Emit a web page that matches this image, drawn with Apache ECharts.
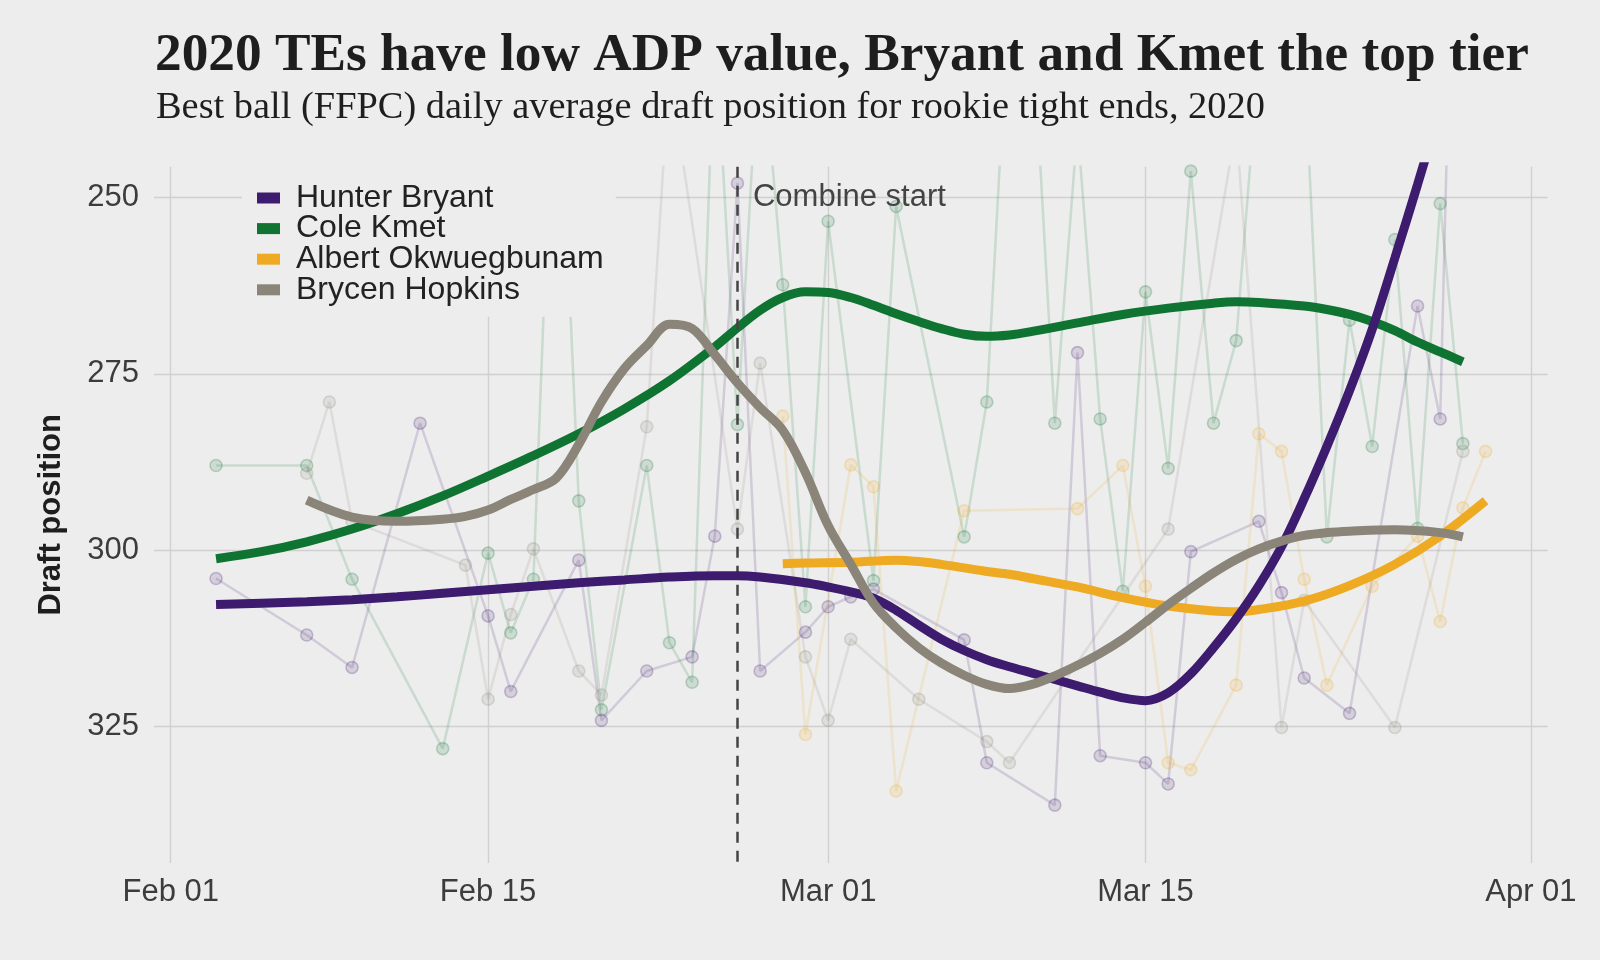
<!DOCTYPE html>
<html>
<head>
<meta charset="utf-8">
<script src="https://cdn.jsdelivr.net/npm/echarts@6/dist/echarts.min.js"></script>
<style>
html,body{margin:0;padding:0;background:#ededed;}
#chart{width:1600px;height:960px;}
</style>
</head>
<body>
<div id="chart"></div>
<script>
// ---------------- DATA ----------------
const names = ['Hunter Bryant', 'Cole Kmet', 'Albert Okwuegbunam', 'Brycen Hopkins'];
const xTickDates = ['2020-02-01', '2020-02-15', '2020-03-01', '2020-03-15', '2020-04-01'];
const yTicks = [250, 275, 300, 325];
const combineDate = '2020-02-26';

// daily ADP (raw points)
const bryantDates = ['2020-02-03','2020-02-07','2020-02-09','2020-02-12','2020-02-15','2020-02-16','2020-02-19','2020-02-20','2020-02-22','2020-02-24','2020-02-25','2020-02-26','2020-02-27','2020-02-29','2020-03-01','2020-03-02','2020-03-03','2020-03-07','2020-03-08','2020-03-11','2020-03-12','2020-03-13','2020-03-15','2020-03-16','2020-03-17','2020-03-20','2020-03-21','2020-03-22','2020-03-24','2020-03-27','2020-03-28','2020-03-29'];
const bryantADP = [304.0,312.0,316.6,282.0,309.3,320.0,301.4,324.1,317.1,315.1,298.0,248.0,317.1,311.6,308.0,306.6,305.5,312.7,330.1,336.1,272.0,329.1,330.1,333.1,300.2,295.9,306.0,318.1,323.1,265.4,281.4,150.0];

const kmetDates = ['2020-02-03','2020-02-07','2020-02-09','2020-02-13','2020-02-15','2020-02-16','2020-02-17','2020-02-18','2020-02-19','2020-02-20','2020-02-22','2020-02-23','2020-02-24','2020-02-25','2020-02-26','2020-02-27','2020-02-28','2020-02-29','2020-03-01','2020-03-03','2020-03-04','2020-03-07','2020-03-08','2020-03-09','2020-03-10','2020-03-11','2020-03-12','2020-03-13','2020-03-14','2020-03-15','2020-03-16','2020-03-17','2020-03-18','2020-03-19','2020-03-20','2020-03-22','2020-03-23','2020-03-24','2020-03-25','2020-03-26','2020-03-27','2020-03-28','2020-03-29'];
const kmetADP = [288.0,288.0,304.1,328.1,300.4,311.7,304.1,220.0,293.0,322.6,288.0,313.1,318.7,225.0,282.2,225.0,262.4,308.0,253.4,304.3,251.3,298.1,279.0,220.0,225.0,282.0,240.0,281.4,305.8,263.4,288.4,246.3,282.0,270.3,230.0,230.0,298.1,267.4,285.3,256.0,296.9,250.9,284.9];

const albertDates = ['2020-02-28','2020-02-29','2020-03-02','2020-03-03','2020-03-04','2020-03-07','2020-03-12','2020-03-14','2020-03-15','2020-03-16','2020-03-17','2020-03-19','2020-03-20','2020-03-21','2020-03-22','2020-03-23','2020-03-25','2020-03-27','2020-03-28','2020-03-29','2020-03-30'];
const albertADP = [281.0,326.1,287.9,291.0,334.1,294.4,294.1,288.0,305.1,330.1,331.1,319.1,283.5,286.0,304.1,319.1,305.1,298.0,310.1,294.0,286.0];

const hopkinsDates = ['2020-02-07','2020-02-08','2020-02-09','2020-02-14','2020-02-15','2020-02-16','2020-02-17','2020-02-19','2020-02-20','2020-02-22','2020-02-23','2020-02-26','2020-02-27','2020-02-29','2020-03-01','2020-03-02','2020-03-05','2020-03-08','2020-03-09','2020-03-16','2020-03-19','2020-03-21','2020-03-22','2020-03-26','2020-03-29'];
const hopkinsADP = [289.1,279.0,295.9,302.1,321.1,309.1,299.8,317.1,320.5,282.5,232.0,297.0,273.5,315.1,324.1,312.6,321.1,327.1,330.1,297.0,240.0,325.1,307.1,325.1,286.0];

// smoothed trend
const bryantSmoothDates = ['2020-02-03','2020-02-05','2020-02-07','2020-02-09','2020-02-11','2020-02-13','2020-02-15','2020-02-17','2020-02-19','2020-02-21','2020-02-23','2020-02-25','2020-02-26','2020-02-27','2020-02-29','2020-03-01','2020-03-02','2020-03-03','2020-03-04','2020-03-05','2020-03-06','2020-03-07','2020-03-08','2020-03-09','2020-03-10','2020-03-11','2020-03-12','2020-03-13','2020-03-14','2020-03-15','2020-03-16','2020-03-17','2020-03-18','2020-03-19','2020-03-20','2020-03-21','2020-03-22','2020-03-23','2020-03-24','2020-03-25','2020-03-26','2020-03-27','2020-03-28','2020-03-29'];
const bryantSmooth = [307.7,307.5,307.3,307.0,306.6,306.1,305.6,305.1,304.6,304.2,303.8,303.6,303.6,303.8,304.6,305.2,305.9,306.8,308.5,310.6,312.6,314.2,315.5,316.5,317.4,318.3,319.2,320.1,320.9,321.3,320.2,317.5,313.8,309.7,305.0,299.5,292.7,285.3,277.4,268.7,258.6,248.2,237.5,227.0];

const kmetSmoothDates = ['2020-02-03','2020-02-05','2020-02-07','2020-02-09','2020-02-11','2020-02-13','2020-02-15','2020-02-17','2020-02-19','2020-02-21','2020-02-23','2020-02-25','2020-02-26','2020-02-27','2020-02-28','2020-02-29','2020-03-01','2020-03-02','2020-03-03','2020-03-04','2020-03-05','2020-03-06','2020-03-07','2020-03-08','2020-03-09','2020-03-10','2020-03-12','2020-03-14','2020-03-16','2020-03-18','2020-03-19','2020-03-20','2020-03-22','2020-03-23','2020-03-24','2020-03-25','2020-03-26','2020-03-27','2020-03-28','2020-03-29'];
const kmetSmooth = [301.2,300.2,298.8,297.0,294.8,292.3,289.5,286.6,283.5,280.0,276.0,271.2,268.5,266.0,264.2,263.4,263.5,264.2,265.3,266.5,267.6,268.6,269.4,269.7,269.5,269.0,267.8,266.6,265.7,265.0,264.8,264.9,265.4,265.9,266.6,267.6,268.9,270.5,271.9,273.3];

const albertSmoothDates = ['2020-02-28','2020-02-29','2020-03-02','2020-03-04','2020-03-05','2020-03-06','2020-03-07','2020-03-08','2020-03-09','2020-03-10','2020-03-12','2020-03-14','2020-03-16','2020-03-18','2020-03-19','2020-03-20','2020-03-22','2020-03-24','2020-03-26','2020-03-28','2020-03-30'];
const albertSmooth = [301.9,301.8,301.7,301.4,301.6,302.0,302.5,303.0,303.4,304.0,305.2,306.7,307.9,308.6,308.7,308.4,307.2,305.0,302.0,298.0,293.0];

const hopkinsSmoothDates = ['2020-02-07','2020-02-09','2020-02-11','2020-02-13','2020-02-14','2020-02-15','2020-02-16','2020-02-17','2020-02-18','2020-02-19','2020-02-20','2020-02-21','2020-02-22','2020-02-23','2020-02-24','2020-02-25','2020-02-26','2020-02-27','2020-02-28','2020-02-29','2020-03-01','2020-03-02','2020-03-03','2020-03-04','2020-03-05','2020-03-06','2020-03-07','2020-03-08','2020-03-09','2020-03-10','2020-03-11','2020-03-12','2020-03-13','2020-03-14','2020-03-15','2020-03-16','2020-03-17','2020-03-18','2020-03-19','2020-03-20','2020-03-21','2020-03-22','2020-03-23','2020-03-24','2020-03-26','2020-03-28','2020-03-29'];
const hopkinsSmooth = [292.9,295.3,295.9,295.6,295.2,294.3,292.8,291.4,289.8,285.0,279.0,274.3,271.0,268.0,268.6,272.3,276.3,279.8,283.0,289.0,296.5,302.0,307.5,311.0,313.8,316.0,317.7,319.0,319.6,319.0,317.8,316.3,314.6,312.6,310.2,307.7,305.4,303.2,301.3,299.8,298.7,297.9,297.5,297.3,297.1,297.5,298.1];

// ---------------- STYLE ----------------
const colors = ['#3d1b6e', '#0f7431', '#eeaa22', '#8a8479'];
const bg = '#ededed';
const DAY = 86400000;
const ORIGIN = new Date(xTickDates[0] + 'T00:00:00Z').getTime();
// days since Feb 01 2020
const dayOf = s => (new Date(s + 'T00:00:00Z').getTime() - ORIGIN) / DAY;
const zip = (d, v) => d.map((s, i) => [dayOf(s), v[i]]);
const MONTHS = ['Jan','Feb','Mar','Apr','May','Jun','Jul','Aug','Sep','Oct','Nov','Dec'];
const fmt = v => { const d = new Date(ORIGIN + Math.round(v) * DAY); return MONTHS[d.getUTCMonth()] + ' ' + String(d.getUTCDate()).padStart(2, '0'); };
function hexA(hex, a) {
  const n = parseInt(hex.slice(1), 16);
  return 'rgba(' + (n >> 16) + ',' + ((n >> 8) & 255) + ',' + (n & 255) + ',' + a + ')';
}
const xTicks = xTickDates.map(dayOf);

const rawSets = [[bryantDates, bryantADP], [kmetDates, kmetADP], [albertDates, albertADP], [hopkinsDates, hopkinsADP]];
const smoothSets = [[bryantSmoothDates, bryantSmooth], [kmetSmoothDates, kmetSmooth], [albertSmoothDates, albertSmooth], [hopkinsSmoothDates, hopkinsSmooth]];
const smoothZ = [5, 3, 4, 6];

const series = [];
rawSets.forEach((s, i) => {
  series.push({
    name: names[i] + ' daily',
    type: 'line',
    data: zip(s[0], s[1]),
    z: 2,
    symbol: 'circle',
    symbolSize: 12,
    showSymbol: true,
    lineStyle: { color: hexA(colors[i], 0.16), width: 2.5 },
    itemStyle: { color: hexA(colors[i], 0.14), borderColor: hexA(colors[i], 0.24), borderWidth: 1.6 },
    emphasis: { disabled: true },
    animation: false
  });
});
smoothSets.forEach((s, i) => {
  series.push({
    name: names[i],
    type: 'line',
    data: zip(s[0], s[1]),
    z: smoothZ[i],
    smooth: 0.35,
    showSymbol: false,
    symbol: 'none',
    lineStyle: { color: colors[i], width: 9, cap: 'butt' },
    itemStyle: { color: colors[i] },
    emphasis: { disabled: true },
    animation: false
  });
});
// combine start marker
series.push({
  name: 'combine',
  type: 'line',
  data: [],
  z: 7,
  markLine: {
    silent: true,
    symbol: 'none',
    animation: false,
    lineStyle: { color: '#444', width: 2.5, type: [11, 8] },
    label: { show: false },
    data: [{ xAxis: dayOf(combineDate) }]
  },
  markPoint: {
    silent: true,
    animation: false,
    symbol: 'rect',
    symbolSize: 1,
    itemStyle: { color: 'rgba(0,0,0,0)' },
    label: { show: true, position: 'right', distance: 15, formatter: 'Combine start', color: '#444', fontSize: 31, fontFamily: 'Liberation Sans' },
    data: [{ coord: [dayOf(combineDate), 250] }]
  }
});

const chart = echarts.init(document.getElementById('chart'), null, { renderer: 'canvas' });
chart.setOption({
  backgroundColor: bg,
  animation: false,
  title: [
    { text: '2020 TEs have low ADP value, Bryant and Kmet the top tier', left: 150, top: 25,
      textStyle: { fontFamily: 'Liberation Serif', fontWeight: 'bold', fontSize: 53.3, color: '#1e1e1e' } },
    { text: 'Best ball (FFPC) daily average draft position for rookie tight ends, 2020', left: 151, top: 84,
      textStyle: { fontFamily: 'Liberation Serif', fontWeight: 'normal', fontSize: 38.4, color: '#1e1e1e' } }
  ],
  legend: {
    data: names.map(n => ({ name: n, icon: 'rect' })),
    orient: 'vertical',
    left: 242, top: 150,
    padding: [32, 12, 11, 15],
    backgroundColor: bg,
    itemWidth: 23, itemHeight: 11,
    itemGap: -1.4,
    selectedMode: false,
    textStyle: { fontFamily: 'Liberation Sans', fontSize: 32, color: '#222', lineHeight: 30, padding: [0, 0, 0, 11] }
  },
  grid: { left: 154, right: 52.5, top: 166.7, bottom: 97, containLabel: false },
  xAxis: {
    type: 'value',
    min: -0.737,
    max: 60.733,
    axisLine: { show: false },
    axisTick: { show: false, customValues: xTicks },
    axisLabel: { customValues: xTicks, formatter: v => fmt(v), fontFamily: 'Liberation Sans', fontSize: 31, color: '#3c3c3c', margin: 14, hideOverlap: false },
    splitLine: { show: true, lineStyle: { color: '#d0d0d0', width: 1.4 } }
  },
  yAxis: {
    type: 'value',
    inverse: true,
    min: 245.67, max: 344.3,
    name: 'Draft position',
    nameLocation: 'middle',
    nameGap: 87,
    nameRotate: 90,
    nameTextStyle: { fontFamily: 'Liberation Sans', fontWeight: 'bold', fontSize: 31, color: '#1e1e1e' },
    axisLine: { show: false },
    axisTick: { show: false, customValues: yTicks },
    axisLabel: { customValues: yTicks, fontFamily: 'Liberation Sans', fontSize: 31, color: '#3c3c3c', margin: 15 },
    splitLine: { show: true, lineStyle: { color: '#d0d0d0', width: 1.4 } }
  },
  series: series
});
</script>
</body>
</html>
